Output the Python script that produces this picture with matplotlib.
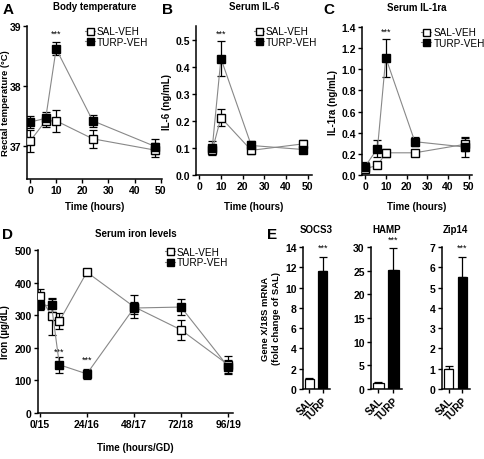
import matplotlib
matplotlib.use("Agg")
import matplotlib.pyplot as plt
import numpy as np

plt.rcParams['font.family'] = ['Liberation Sans', 'DejaVu Sans']
plt.rcParams['font.weight'] = 'bold'

# ---- data ----
# A: body temperature
temp_t = [0, 6, 10, 24, 48]
temp_sal = [37.08, 37.42, 37.42, 37.12, 36.93]
temp_sal_err = [0.18, 0.1, 0.18, 0.15, 0.12]
temp_turp = [37.4, 37.46, 38.62, 37.42, 36.99]
temp_turp_err = [0.1, 0.1, 0.11, 0.1, 0.13]

# B: serum IL-6
il6_t = [6, 10, 24, 48]
il6_sal = [0.091, 0.212, 0.091, 0.115]
il6_sal_err = [0.016, 0.03, 0.015, 0.015]
il6_turp = [0.1, 0.43, 0.109, 0.094]
il6_turp_err = [0.024, 0.065, 0.018, 0.01]

# C: serum IL-1ra
il1_t = [0, 6, 10, 24, 48]
il1_sal = [0.06, 0.09, 0.21, 0.21, 0.29]
il1_sal_err = [0.02, 0.01, 0.04, 0.02, 0.06]
il1_turp = [0.08, 0.25, 1.11, 0.315, 0.265]
il1_turp_err = [0.04, 0.08, 0.18, 0.04, 0.09]

# D: serum iron
iron_sal_t = [0, 6, 10, 24, 48, 72, 96]
iron_sal = [360, 297, 282, 432, 326, 255, 148]
iron_sal_err = [20, 57, 25, 10, 35, 30, 28]
iron_turp_t = [0, 6, 10, 24, 48, 72, 96]
iron_turp = [330, 330, 148, 120, 322, 325, 142]
iron_turp_err = [15, 20, 25, 15, 17, 25, 20]
iron_ticks = [0, 24, 48, 72, 96]
iron_ticklabels = ['0/15', '24/16', '48/17', '72/18', '96/19']

# E: gene expression
genes = ['SOCS3', 'HAMP', 'Zip14']
groups = ['SAL', 'TURP']
gene_sal = [1.0, 1.28, 1.0]
gene_sal_err = [0.1, 0.2, 0.14]
gene_turp = [11.6, 25.2, 5.53]
gene_turp_err = [1.4, 4.6, 1.0]
gene_star_y = [14.0, 31.6, 7.0]
gene_ymax = [14, 30, 7]
gene_yticks = [range(0, 15, 2), range(0, 31, 5), range(0, 8, 1)]

W, H = 484, 460
fig = plt.figure(figsize=(W / 100, H / 100), dpi=100)


def px_axes(x0, y0, x1, y1):
    return fig.add_axes([x0 / W, 1 - y1 / H, (x1 - x0) / W, (y1 - y0) / H])


def style(ax):
    for s in ['top', 'right']:
        ax.spines[s].set_visible(False)
    for s in ['left', 'bottom']:
        ax.spines[s].set_linewidth(1.1)
    ax.tick_params(length=3, width=1.0, labelsize=7.5, pad=1.5)
    for lab in ax.get_xticklabels() + ax.get_yticklabels():
        lab.set_fontweight('bold')


def time_plot(ax, xs, ys, es, xt, yt, et, leg_anchor):
    ax.errorbar(xs, ys, yerr=es, fmt='none', ecolor='black', elinewidth=0.9,
                capsize=3, capthick=0.9, zorder=2)
    ax.errorbar(xt, yt, yerr=et, fmt='none', ecolor='black', elinewidth=0.9,
                capsize=3, capthick=0.9, zorder=2)
    ax.plot(xs, ys, color='#888888', lw=0.8, marker='s', ms=5.6,
            mfc='white', mec='black', mew=1.0, label='SAL-VEH', zorder=3)
    ax.plot(xt, yt, color='#888888', lw=0.8, marker='s', ms=5.6,
            mfc='black', mec='black', mew=1.0, label='TURP-VEH', zorder=4)
    ax.legend(loc='upper left', bbox_to_anchor=leg_anchor, frameon=False,
              handlelength=1.0, handletextpad=0.2, markerscale=0.9,
              labelspacing=0.05, borderpad=0, borderaxespad=0,
              prop={'size': 7.2, 'weight': 'normal'})
    style(ax)


def stars(ax, x, y):
    ax.text(x, y, '***', ha='center', va='center', fontsize=6.5,
            fontweight='normal', clip_on=False)


lab_fs = 7

# A
axA = px_axes(27, 27, 162, 180)
time_plot(axA, temp_t, temp_sal, temp_sal_err, temp_t, temp_turp, temp_turp_err, (0.43, 1.0))
axA.set_xlim(-1.15, 50.5)
axA.set_ylim(36.45, 39)
axA.set_yticks([37, 38, 39])
axA.set_xticks([0, 10, 20, 30, 40, 50])
axA.set_title('Body temperature', fontsize=lab_fs, fontweight='bold', pad=12)
axA.set_ylabel('Rectal temperature (°C)', fontsize=6.8, fontweight='bold', labelpad=0)
axA.set_xlabel('Time (hours)', fontsize=lab_fs, fontweight='bold', labelpad=4)
style(axA)
axA.tick_params(axis='y', pad=1)
stars(axA, 10, 38.88)

# B
axB = px_axes(196, 27, 312, 176)
time_plot(axB, il6_t, il6_sal, il6_sal_err, il6_t, il6_turp, il6_turp_err, (0.5, 1.0))
axB.set_xlim(-1.5, 52)
axB.set_ylim(0, 0.55)
axB.set_yticks([0.0, 0.1, 0.2, 0.3, 0.4, 0.5])
axB.set_xticks([0, 10, 20, 30, 40, 50])
axB.set_title('Serum IL-6', fontsize=lab_fs, fontweight='bold', pad=12)
axB.set_ylabel('IL-6 (ng/mL)', fontsize=lab_fs, fontweight='bold', labelpad=2)
axB.set_xlabel('Time (hours)', fontsize=lab_fs, fontweight='bold', labelpad=7)
style(axB)
stars(axB, 10, 0.524)

# C
axC = px_axes(362, 28, 472, 176)
time_plot(axC, il1_t, il1_sal, il1_sal_err, il1_t, il1_turp, il1_turp_err, (0.54, 1.0))
axC.set_xlim(-1.45, 51.5)
axC.set_ylim(0, 1.4)
axC.set_yticks(np.arange(0, 1.41, 0.2))
axC.set_xticks([0, 10, 20, 30, 40, 50])
axC.set_title('Serum IL-1ra', fontsize=lab_fs, fontweight='bold', pad=12)
axC.set_ylabel('IL-1ra (ng/mL)', fontsize=lab_fs, fontweight='bold', labelpad=2)
axC.set_xlabel('Time (hours)', fontsize=lab_fs, fontweight='bold', labelpad=7)
style(axC)
stars(axC, 10, 1.36)

# D
axD = px_axes(38, 251, 233, 414)
time_plot(axD, iron_sal_t, iron_sal, iron_sal_err, iron_turp_t, iron_turp, iron_turp_err, (0.65, 1.02))
axD.set_xlim(-0.9, 98.5)
axD.set_ylim(0, 500)
axD.set_yticks(range(0, 501, 100))
axD.set_xticks(iron_ticks)
axD.set_xticklabels(iron_ticklabels)
axD.set_title('Serum iron levels', fontsize=lab_fs, fontweight='bold', pad=10)
axD.set_ylabel('Iron (µg/dL)', fontsize=lab_fs, fontweight='bold', labelpad=3)
axD.set_xlabel('Time (hours/GD)', fontsize=lab_fs, fontweight='bold', labelpad=9)
style(axD)
stars(axD, 10, 190)
stars(axD, 24, 166)

# E
e_pos = [(302.7, 330), (371, 401.7), (441.7, 470)]
for i, gene in enumerate(genes):
    x0, x1 = e_pos[i]
    ax = px_axes(x0, 248, x1, 390)
    ax.bar([0, 1], [gene_sal[i], gene_turp[i]], width=0.7,
           color=['white', 'black'], edgecolor='black', linewidth=0.9, zorder=2)
    ax.errorbar([0, 1], [gene_sal[i], gene_turp[i]],
                yerr=[[0, 0], [gene_sal_err[i], gene_turp_err[i]]],
                fmt='none', ecolor='black', elinewidth=0.9, capsize=3,
                capthick=0.9, zorder=1)
    ax.set_xlim(-0.5, 1.55)
    ax.set_ylim(0, gene_ymax[i])
    ax.set_yticks(list(gene_yticks[i]))
    ax.set_xticks([0, 1])
    ax.set_xticklabels(groups)
    style(ax)
    ax.tick_params(axis='x', labelsize=7.2)
    for lab in ax.get_xticklabels():
        lab.set_rotation(45)
        lab.set_ha('right')
        lab.set_rotation_mode('anchor')
    ax.set_title(gene, fontsize=lab_fs, fontweight='bold', pad=11)
    stars(ax, 1, gene_star_y[i])
    if i == 0:
        ax.set_ylabel('Gene X/18S mRNA\n(fold change of SAL)', fontsize=6.8,
                      fontweight='bold', labelpad=3)

# panel letters
for letter, (px, py) in {'A': (3, 3), 'B': (162, 3), 'C': (323, 3),
                         'D': (2, 228), 'E': (267, 228)}.items():
    fig.text(px / W, 1 - py / H, letter, fontsize=11, fontweight='bold',
             ha='left', va='top')

fig.savefig('out.png', dpi=100)
